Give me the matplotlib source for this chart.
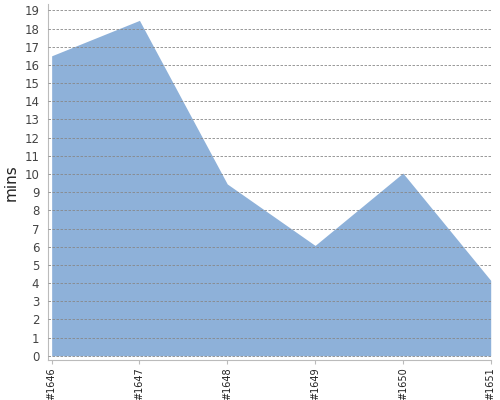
import matplotlib
matplotlib.use("Agg")
import matplotlib.pyplot as plt

# data
builds = ["#1646", "#1647", "#1648", "#1649", "#1650", "#1651"]
minutes = [16.5, 18.45, 9.45, 6.07, 10.05, 4.15]
y_ticks = list(range(0, 20))

fig = plt.figure(figsize=(5, 4), dpi=100)
ax = fig.add_axes([47.7 / 500, 1 - 360.3 / 400, (490.7 - 47.7) / 500, (360.3 - 4) / 400])

x = list(range(len(builds)))
ax.fill_between(x, 0, minutes, color="#8eb1d9", linewidth=0, zorder=1)

ax.set_xlim(-0.045, len(builds) - 1)
ax.set_ylim(-0.25, 19.35)
ax.set_yticks(y_ticks)
ax.set_xticks(x)
ax.set_xticklabels(builds, rotation=90, fontsize=7, color="#222222")
ax.tick_params(axis="y", length=0, labelsize=8.5, labelcolor="#444444", pad=6)
ax.tick_params(axis="x", length=3, color="#bbbbbb", pad=2)

ax.yaxis.grid(True, linestyle=(0, (3, 1.8)), color="#888888", linewidth=0.6, zorder=2)
ax.set_axisbelow(False)

for side in ["top", "right"]:
    ax.spines[side].set_visible(False)
for side in ["left", "bottom"]:
    ax.spines[side].set_color("#bbbbbb")

ax.set_ylabel("mins", fontsize=11, color="#222222", labelpad=4)

fig.savefig("out.png", dpi=100)
